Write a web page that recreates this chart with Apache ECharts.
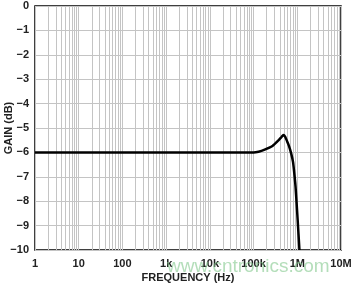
<!DOCTYPE html>
<html>
<head>
<meta charset="utf-8">
<script src="https://cdn.jsdelivr.net/npm/echarts@6/dist/echarts.min.js"></script>
<style>
  html, body { margin: 0; padding: 0; background: #fff; }
  #chart { width: 352px; height: 286px; }
</style>
</head>
<body>
<div id="chart"></div>
<script>
// frequency response
const freqHz = [1, 10, 100, 1000, 10000, 100000, 130000, 174000, 270000, 380000, 440000, 480000,
  530000, 590000, 650000, 724000, 800000, 870000, 912000, 1020000, 1120000];
const gainDb = [-6, -6, -6, -6, -6, -6, -5.97, -5.9, -5.74, -5.49, -5.36, -5.29,
  -5.36, -5.56, -5.75, -6.04, -6.4, -7.0, -7.4, -8.77, -10];

const freqTicks = { 1: "1", 10: "10", 100: "100", 1000: "1k", 10000: "10k",
  100000: "100k", 1000000: "1M", 10000000: "10M" };

// minor grid lines at 2..9 of each decade
const minorLines = [];
for (let d = 1; d < 1e7; d *= 10) {
  for (let m = 2; m <= 9; m++) minorLines.push({ xAxis: m * d });
}

const font = "'Liberation Sans', Arial, sans-serif";
const chart = echarts.init(document.getElementById("chart"));

chart.setOption({
  animation: false,
  grid: {
    left: 35, right: 11, top: 6, bottom: 36,
    containLabel: false,
    outerBoundsMode: "none",
    show: true, borderColor: "#000", borderWidth: 1.5
  },
  xAxis: {
    type: "log",
    logBase: 10,
    min: 1,
    max: 1e7,
    name: "FREQUENCY (Hz)",
    nameLocation: "middle",
    nameGap: 22,
    nameMoveOverlap: false,
    nameTextStyle: { fontFamily: font, fontWeight: "bold", fontSize: 11, color: "#222" },
    axisLine: { show: false },
    axisTick: { show: false },
    axisLabel: {
      fontFamily: font, fontWeight: "bold", fontSize: 11, color: "#222", margin: 8,
      formatter: v => freqTicks[Math.round(v)] || ""
    },
    splitLine: { show: true, lineStyle: { color: "#c4c4c4", width: 1 } }
  },
  yAxis: {
    type: "value",
    min: -10,
    max: 0,
    interval: 1,
    name: "GAIN (dB)",
    nameLocation: "middle",
    nameGap: 21,
    nameMoveOverlap: false,
    nameTextStyle: { fontFamily: font, fontWeight: "bold", fontSize: 11, color: "#222" },
    axisLine: { show: false },
    axisTick: { show: false },
    axisLabel: {
      fontFamily: font, fontWeight: "bold", fontSize: 11, color: "#222", margin: 6,
      formatter: v => (v < 0 ? "\u2212" + Math.abs(v) : String(v))
    },
    splitLine: { show: true, lineStyle: { color: "#c4c4c4", width: 1 } }
  },
  graphic: [{
    type: "text",
    left: 167,
    top: 257,
    z: 100,
    style: {
      text: "www.cntronics.com",
      fontFamily: font,
      fontSize: 19,
      fill: "rgba(130, 200, 140, 0.6)"
    }
  }],
  series: [{
    type: "line",
    data: freqHz.map((f, i) => [f, gainDb[i]]),
    showSymbol: false,
    smooth: 0.2,
    lineStyle: { color: "#000", width: 2.5 },
    z: 5,
    markLine: {
      silent: true,
      symbol: "none",
      label: { show: false },
      lineStyle: { color: "#c4c4c4", width: 1, type: "solid" },
      data: minorLines,
      z: 1
    }
  }]
});
</script>
</body>
</html>
